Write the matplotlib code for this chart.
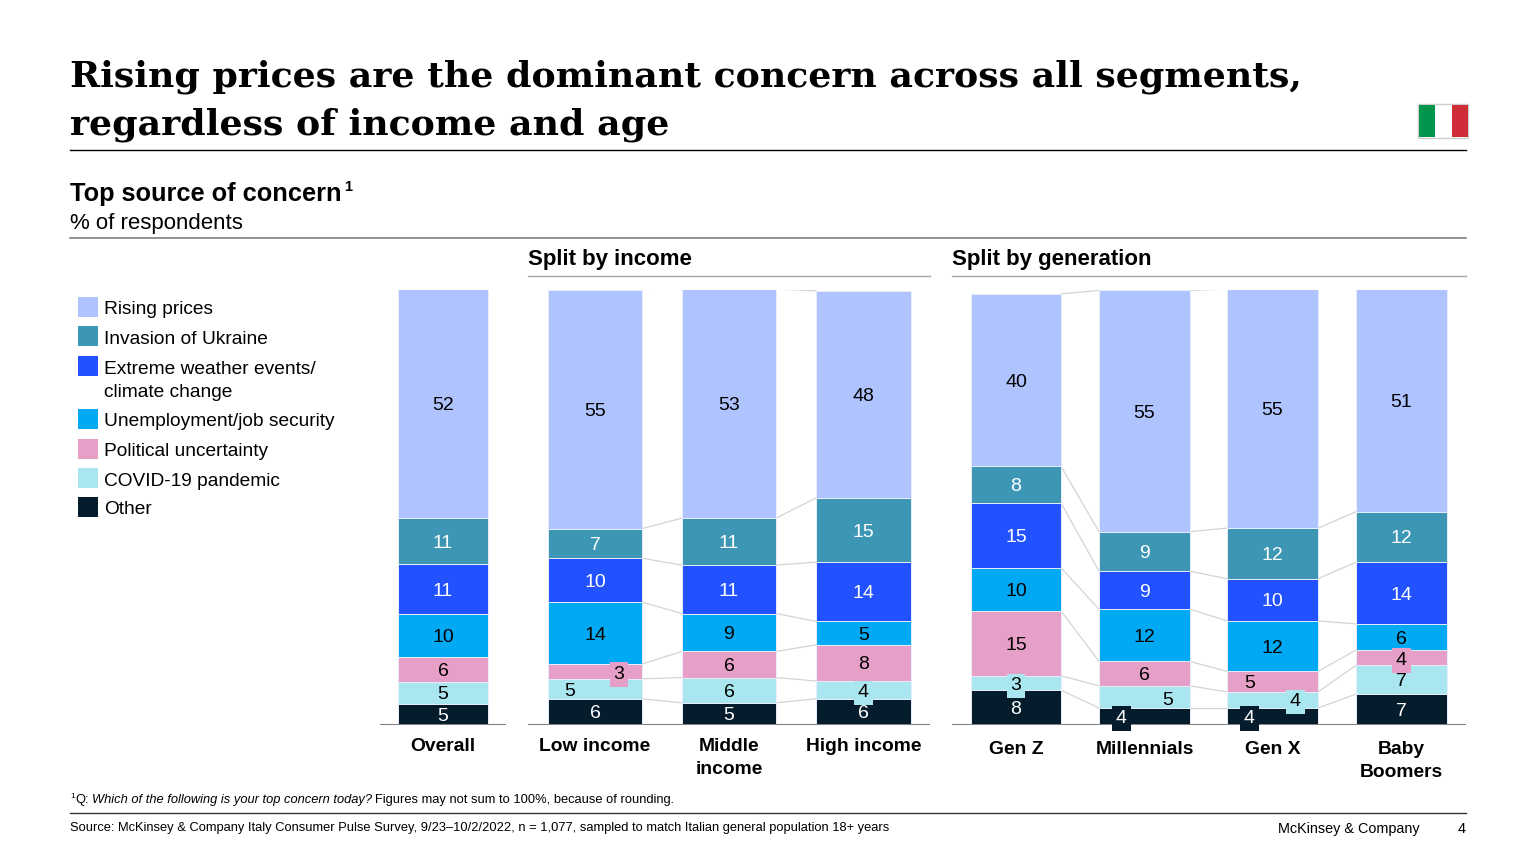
import matplotlib
matplotlib.use("Agg")
import matplotlib.pyplot as plt
from matplotlib.patches import Rectangle

plt.rcParams["font.family"] = ["Liberation Sans", "DejaVu Sans"]

# --- Data (% of respondents) ---
segments = ["Overall", "Low income", "Middle\nincome", "High income",
            "Gen Z", "Millennials", "Gen X", "Baby\nBoomers"]
other = [4.8, 6.0, 5.1, 6.0, 8.0, 3.9, 3.9, 7.1]
covid = [5.1, 4.6, 5.8, 4.1, 3.3, 5.1, 3.7, 6.6]
political = [5.7, 3.4, 6.0, 8.3, 14.9, 5.6, 4.7, 3.5]
unemployment = [9.9, 14.2, 8.7, 5.4, 9.9, 12.0, 11.6, 6.0]
weather = [11.4, 10.1, 11.1, 13.6, 14.9, 8.7, 9.7, 14.2]
ukraine = [10.7, 6.8, 10.8, 14.7, 8.4, 9.1, 11.6, 11.6]
rising = [52.4, 54.9, 52.6, 47.6, 39.6, 55.4, 54.9, 51.2]

# bottom to top
series = [other, covid, political, unemployment, weather, ukraine, rising]
colors = ["#051C2C", "#AAE6F0", "#E6A0C8", "#00A9F4", "#2251FF", "#3C96B4", "#AFC3FF"]
text_colors = ["white", "black", "black", "black", "white", "white", "black"]

legend_names = ["Rising prices", "Invasion of Ukraine", "Extreme weather events/\nclimate change",
                "Unemployment/job security", "Political uncertainty", "COVID-19 pandemic", "Other"]
legend_colors = colors[::-1]

# --- Layout in pixels ---
W, H = 1536, 864
BASE_Y, TOP_Y = 725, 289.5
bar_left = [398, 548, 682, 816, 971, 1099, 1227, 1356]
bar_right = [488, 642, 776, 911, 1061, 1190, 1318, 1447]
linked = [(1, 2), (2, 3), (4, 5), (5, 6), (6, 7)]  # bars joined by connector lines
baselines = [(380, 506), (528, 930), (952, 1466)]
cat_y = [746, 746, 746, 746, 749, 749, 749, 749]
# labels moved off centre: (bar, series) -> (dx px, dy px, boxed)
label_moves = {
    (1, 2): (24, 1, True), (1, 1): (-25, 1, False), (3, 1): (0, 1, True),
    (4, 1): (0, 1, True), (5, 1): (23, 2, False), (5, 0): (-23, 0, True),
    (6, 2): (-23, 0, False), (6, 1): (23, 0, True), (6, 0): (-23, 0, True),
    (7, 2): (0, 1, True),
}

fig = plt.figure(figsize=(W / 100, H / 100), dpi=100)

# page axes in pixels, for headings and rules
page = fig.add_axes([0, 0, 1, 1])
page.set_xlim(0, W)
page.set_ylim(H, 0)
page.axis("off")

# chart axes: x in pixels, y in percent
ax = fig.add_axes([0, (H - BASE_Y) / H, 1, (BASE_Y - TOP_Y) / H])
ax.set_xlim(0, W)
ax.set_ylim(0, 100)
ax.axis("off")

x_mid = [(l + r) / 2 for l, r in zip(bar_left, bar_right)]
widths = [r - l for l, r in zip(bar_left, bar_right)]

bottoms = [0.0] * len(segments)
tops = []
for s, values in enumerate(series):
    ax.bar(x_mid, values, widths, bottom=bottoms, color=colors[s],
           edgecolor="#E8EEFA", linewidth=0.7, zorder=2)
    for b, v in enumerate(values):
        dx, dy, boxed = label_moves.get((b, s), (0, 0, False))
        box = dict(facecolor=colors[s], edgecolor="none", pad=2.8) if boxed else None
        ax.annotate(str(round(v)), (x_mid[b], bottoms[b] + v / 2), xytext=(dx * 0.72, -dy * 0.72),
                    textcoords="offset points", ha="center", va="center_baseline",
                    fontsize=14, color=text_colors[s], bbox=box, zorder=4, annotation_clip=False)
    bottoms = [a + v for a, v in zip(bottoms, values)]
    tops.append(list(bottoms))

# connector lines between neighbouring bars
for level in tops:
    for a, b in linked:
        ax.plot([bar_right[a], bar_left[b]], [level[a], level[b]],
                color="#D4D4D4", linewidth=0.9, zorder=1)

for x0, x1 in baselines:
    ax.plot([x0, x1], [0, 0], color="#7F7F7F", linewidth=1.5, zorder=3, solid_capstyle="butt")

# category labels
for b, name in enumerate(segments):
    page.text(x_mid[b], cat_y[b] - 8, name, ha="center", va="top", fontsize=13.9,
              fontweight="bold", linespacing=1.45)

# title
title_kw = dict(family="DejaVu Serif", fontweight="bold", fontsize=26.1, va="center", color="black")
page.text(70, 77, "Rising prices are the dominant concern across all segments,", **title_kw)
page.text(70, 125, "regardless of income and age", **title_kw)
page.plot([70, 1466], [150, 150], color="black", linewidth=1)

# flag
page.add_patch(Rectangle((1418, 104), 50, 34, facecolor="white", edgecolor="#CFCFCF", linewidth=1))
page.add_patch(Rectangle((1419, 105), 16, 32, facecolor="#00964E", edgecolor="none"))
page.add_patch(Rectangle((1452, 105), 16, 32, facecolor="#CF2E38", edgecolor="none"))

# sub heading
page.text(70, 193.5, "Top source of concern", fontsize=18.3, fontweight="bold", va="center")
page.text(344, 187, "1", fontsize=10.5, fontweight="bold", va="center")
page.text(70, 223, "% of respondents", fontsize=16, va="center")
page.plot([70, 1466], [238, 238], color="#7F7F7F", linewidth=1.2)

page.text(528, 259.5, "Split by income", fontsize=16, fontweight="bold", va="center")
page.text(952, 259.5, "Split by generation", fontsize=16, fontweight="bold", va="center")
page.plot([528, 930], [276, 276], color="#A6A6A6", linewidth=1)
page.plot([952, 1466], [276, 276], color="#A6A6A6", linewidth=1)

# legend
legend_y = [308, 337, 367, 420, 450, 479, 508]
for name, c, y in zip(legend_names, legend_colors, legend_y):
    page.add_patch(Rectangle((78, y - 11), 20, 20, facecolor=c, edgecolor="none"))
    page.text(104, y - 6.5, name, fontsize=13.8, va="top", linespacing=1.5)

# footer
page.text(70, 797, "1", fontsize=6, va="center")
page.text(75, 800, "Q:", fontsize=9.25, va="center")
page.text(92, 800, "Which of the following is your top concern today?", fontsize=9.25, style="italic", va="center")
page.text(375, 800, "Figures may not sum to 100%, because of rounding.", fontsize=9.25, va="center")
page.plot([70, 1466], [813, 813], color="#333333", linewidth=1)
page.text(70, 828, "Source: McKinsey & Company Italy Consumer Pulse Survey, 9/23–10/2/2022, n = 1,077, "
          "sampled to match Italian general population 18+ years", fontsize=9.26, va="center")
page.text(1420, 829, "McKinsey & Company", fontsize=10.4, ha="right", va="center")
page.text(1466, 829, "4", fontsize=10.4, ha="right", va="center")

fig.savefig("out.png", dpi=100)
